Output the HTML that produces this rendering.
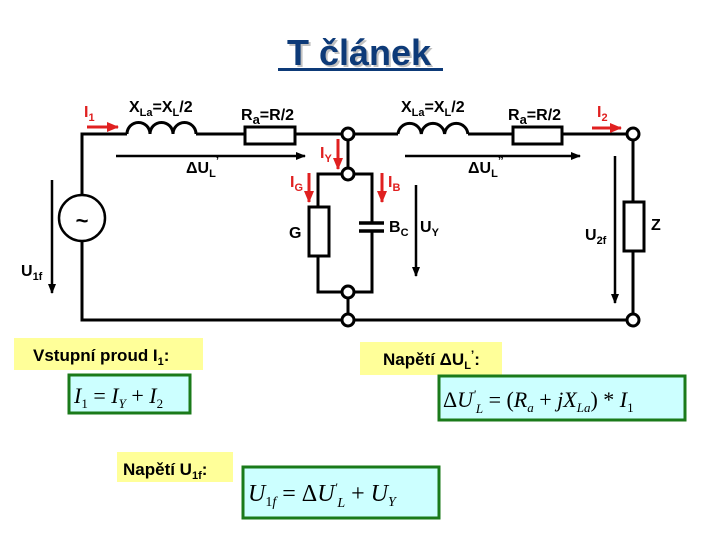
<!DOCTYPE html>
<html><head><meta charset="utf-8"><style>
body{margin:0;background:#fff}
svg{display:block}
.b{font-family:"Liberation Sans",sans-serif;font-weight:bold}
.m{font-family:"Liberation Serif",serif;font-style:italic}
</style></head><body>
<svg width="720" height="540" viewBox="0 0 720 540" xmlns="http://www.w3.org/2000/svg">
<defs>
<marker id="ab" markerWidth="10" markerHeight="8" refX="9" refY="4" orient="auto" markerUnits="userSpaceOnUse"><path d="M0,0 L10,4 L0,8 z" fill="#000"/></marker>
<marker id="ar" markerWidth="12" markerHeight="10" refX="11" refY="5" orient="auto" markerUnits="userSpaceOnUse"><path d="M0,0 L12,5 L0,10 z" fill="#e02020"/></marker>
</defs>
<text x="361" y="67" text-anchor="middle" class="b" font-size="36" fill="#999" opacity="0.6">T článek</text>
<text x="359" y="65" text-anchor="middle" class="b" font-size="36" fill="#0d3a78">T článek</text>
<rect x="278" y="68" width="165" height="3" fill="#0d3a78"/>
<g stroke="#000" stroke-width="3" fill="none">
<path d="M127,134 H82 V195 M82,241 V320 H633 V134 H562 M513,134 H468 M398,134 H348 M295,134 H348 M245,134 H196"/>
<circle cx="82" cy="218" r="23" stroke-width="2.5"/>
<path d="M127,134 a11.5,11.5 0 0 1 23,0 a11.5,11.5 0 0 1 23,0 a11.5,11.5 0 0 1 23,0"/>
<path d="M398,134 a11.7,11.7 0 0 1 23.3,0 a11.7,11.7 0 0 1 23.3,0 a11.7,11.7 0 0 1 23.3,0"/>
<rect x="245" y="127" width="50" height="17" fill="#fff"/>
<rect x="513" y="127" width="49" height="17" fill="#fff"/>
<path d="M348,134 V174 M348,292 V320"/>
<path d="M348,174 H318 V292 H348 M348,174 H372 V223 M372,231 V292 H348"/>
<rect x="309" y="207" width="20" height="49" fill="#fff"/>
<rect x="624" y="202" width="20" height="49" fill="#fff"/>
<path d="M359,223 H384 M359,231 H384" stroke-width="3.5"/>
</g>
<g fill="#fff" stroke="#000" stroke-width="3">
<circle cx="348" cy="134" r="6"/><circle cx="348" cy="174" r="6"/>
<circle cx="348" cy="292" r="6"/><circle cx="348" cy="320" r="6"/>
<circle cx="633" cy="134" r="6"/><circle cx="633" cy="320" r="6"/>
</g>
<text x="82" y="228" text-anchor="middle" class="b" font-size="22">~</text>
<g stroke="#000" stroke-width="2.5" marker-end="url(#ab)">
<line x1="116" y1="156" x2="305" y2="156"/>
<line x1="405" y1="156" x2="580" y2="156"/>
<line x1="52" y1="180" x2="52" y2="293"/>
<line x1="416" y1="185" x2="416" y2="276"/>
<line x1="615" y1="156" x2="615" y2="303"/>
</g>
<g stroke="#e02020" stroke-width="3" marker-end="url(#ar)">
<line x1="87" y1="127" x2="118" y2="127"/>
<line x1="592" y1="128" x2="621" y2="128"/>
<line x1="338" y1="139" x2="338" y2="169"/>
<line x1="309" y1="173" x2="309" y2="202"/>
<line x1="382" y1="173" x2="382" y2="202"/>
</g>
<g class="b" font-size="16">
<text x="84" y="117" fill="#e02020">I<tspan font-size="11" dy="4">1</tspan></text>
<text x="129" y="112">X<tspan font-size="11" dy="4">La</tspan><tspan dy="-4">=X</tspan><tspan font-size="11" dy="4">L</tspan><tspan dy="-4">/2</tspan></text>
<text x="241" y="120">R<tspan font-size="13" dy="4">a</tspan><tspan dy="-4">=R/2</tspan></text>
<text x="401" y="112">X<tspan font-size="11" dy="4">La</tspan><tspan dy="-4">=X</tspan><tspan font-size="11" dy="4">L</tspan><tspan dy="-4">/2</tspan></text>
<text x="508" y="120">R<tspan font-size="13" dy="4">a</tspan><tspan dy="-4">=R/2</tspan></text>
<text x="597" y="117" fill="#e02020">I<tspan font-size="11" dy="4">2</tspan></text>
<text x="186" y="173">ΔU<tspan font-size="11" dy="4">L</tspan><tspan dy="-12" font-size="12">’</tspan></text>
<text x="468" y="173">ΔU<tspan font-size="11" dy="4">L</tspan><tspan dy="-12" font-size="12">”</tspan></text>
<text x="320" y="158" fill="#e02020">I<tspan font-size="11" dy="4">Y</tspan></text>
<text x="290" y="187" fill="#e02020">I<tspan font-size="11" dy="4">G</tspan></text>
<text x="388" y="187" fill="#e02020">I<tspan font-size="11" dy="4">B</tspan></text>
<text x="289" y="238">G</text>
<text x="389" y="232">B<tspan font-size="11" dy="4">C</tspan></text>
<text x="420" y="232">U<tspan font-size="11" dy="4">Y</tspan></text>
<text x="585" y="240">U<tspan font-size="11" dy="4">2f</tspan></text>
<text x="651" y="230">Z</text>
<text x="21" y="276">U<tspan font-size="11" dy="4">1f</tspan></text>
</g>
<rect x="14" y="338" width="189" height="32" fill="#ffff99"/>
<text x="33" y="361" class="b" font-size="17">Vstupní proud I<tspan font-size="11" dy="4">1</tspan><tspan dy="-4">:</tspan></text>
<rect x="69" y="375" width="121" height="38" fill="#ccffff" stroke="#1a7a1a" stroke-width="3"/>
<text x="74" y="403" class="m" font-size="22">I<tspan font-size="13" dy="5" font-style="normal">1</tspan><tspan dy="-5" font-style="normal"> = </tspan>I<tspan font-size="13" dy="5">Y</tspan><tspan dy="-5" font-style="normal"> + </tspan>I<tspan font-size="13" dy="5" font-style="normal">2</tspan></text>
<rect x="360" y="342" width="142" height="33" fill="#ffff99"/>
<text x="383" y="365" class="b" font-size="17">Napětí ΔU<tspan font-size="11" dy="4">L</tspan><tspan dy="-10" font-size="12">’</tspan><tspan dy="6">:</tspan></text>
<rect x="439" y="376" width="246" height="44" fill="#ccffff" stroke="#1a7a1a" stroke-width="3"/>
<text x="443" y="407" class="m" font-size="22"><tspan font-style="normal">Δ</tspan>U<tspan font-size="13" dy="-8">'</tspan><tspan font-size="13" dy="14">L</tspan><tspan dy="-6" font-style="normal"> = (</tspan>R<tspan font-size="13" dy="5">a</tspan><tspan dy="-5" font-style="normal"> + </tspan>jX<tspan font-size="13" dy="5">La</tspan><tspan dy="-5" font-style="normal">) * </tspan>I<tspan font-size="13" dy="5" font-style="normal">1</tspan></text>
<rect x="117" y="452" width="116" height="30" fill="#ffff99"/>
<text x="123" y="475" class="b" font-size="17">Napětí U<tspan font-size="11" dy="4">1f</tspan><tspan dy="-4">:</tspan></text>
<rect x="243" y="467" width="196" height="51" fill="#ccffff" stroke="#1a7a1a" stroke-width="3"/>
<text x="248" y="501" class="m" font-size="24">U<tspan font-size="14" dy="5"><tspan font-style="normal">1</tspan>f</tspan><tspan dy="-5" font-style="normal"> = Δ</tspan>U<tspan font-size="13" dy="-9">'</tspan><tspan font-size="14" dy="15">L</tspan><tspan dy="-6" font-style="normal"> + </tspan>U<tspan font-size="14" dy="5">Y</tspan></text>
</svg>
</body></html>
